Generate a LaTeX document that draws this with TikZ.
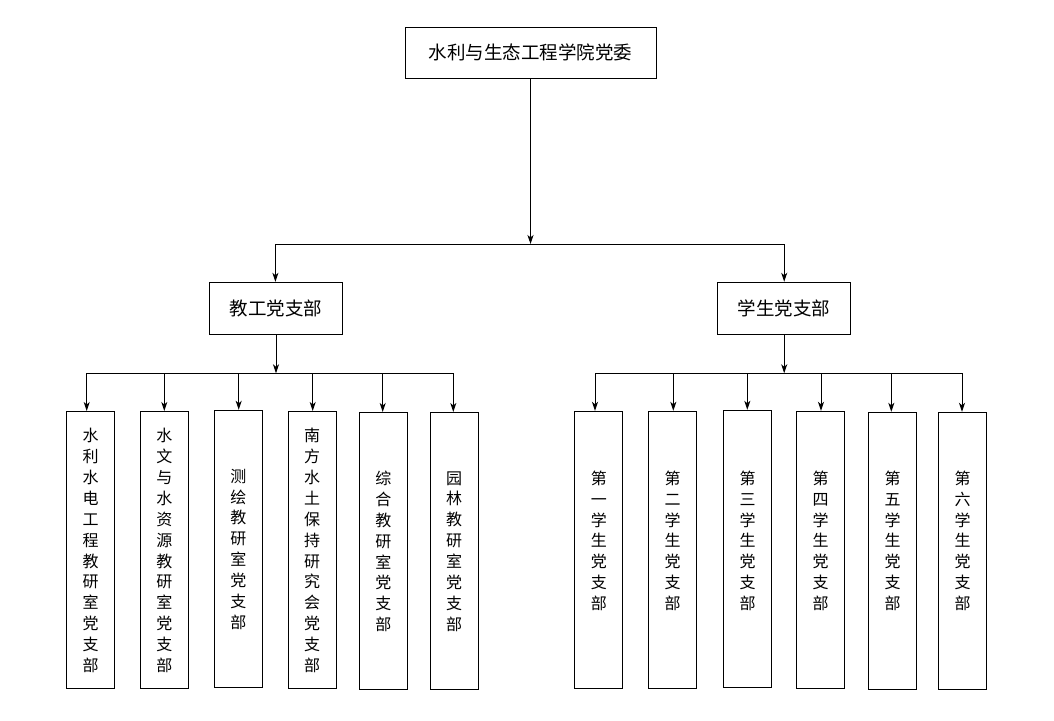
\documentclass[tikz,border=0pt]{standalone}
\usepackage{fontspec}
\setmainfont{Noto Sans CJK SC}
\usetikzlibrary{arrows.meta}
\tikzset{
  box/.style={draw=black, line width=1pt, inner sep=0pt, font=\fontsize{18.5}{22}\selectfont},
  leaf/.style={draw=black, line width=1pt, inner sep=0pt, minimum width=48pt, minimum height=277pt},
  leaftext/.style={inner sep=0pt, align=center, font=\fontsize{16}{20.9}\selectfont},
  conn/.style={line width=1pt, draw=black},
  arr/.style={conn, -{Stealth[length=9pt,width=6pt,inset=2.5pt]}}
}
\begin{document}
\begin{tikzpicture}[x=1pt,y=-1pt]
\useasboundingbox (0,0) rectangle (1054,720);
% top
\node[box, minimum width=251pt, minimum height=51pt] (top) at (530.5,52.5) {水利与生态工程学院党委};
% middle
\node[box, minimum width=133pt, minimum height=52pt] (jg) at (276,308.3) {教工党支部};
\node[box, minimum width=133pt, minimum height=52pt] (xs) at (784.2,308.3) {学生党支部};
% bars
\coordinate (tb) at (530.5,244);
\coordinate (tbl) at (275.4,244);
\coordinate (tbr) at (784.2,244);
\draw[arr] (top.south) -- (tb);
\draw[conn] (tbl) -- (tbr);
\draw[arr] (tbl) -- (tbl |- jg.north);
\draw[arr] (tbr) -- (xs.north);
% left leaves
\node[leaf] (l1) at (90.5,550) {};
\node[leaf] (l2) at (164.3,550) {};
\node[leaf] (l3) at (238.3,548.8) {};
\node[leaf] (l4) at (312,550) {};
\node[leaf] (l5) at (383.3,551) {};
\node[leaf] (l6) at (454.2,551) {};
\node[leaftext] at ([yshift=-0.5]l1.center) {水\\利\\水\\电\\工\\程\\教\\研\\室\\党\\支\\部};
\node[leaftext] at ([yshift=-0.5]l2.center) {水\\文\\与\\水\\资\\源\\教\\研\\室\\党\\支\\部};
\node[leaftext] at ([yshift=-0.5]l3.center) {测\\绘\\教\\研\\室\\党\\支\\部};
\node[leaftext] at ([yshift=-0.5]l4.center) {南\\方\\水\\土\\保\\持\\研\\究\\会\\党\\支\\部};
\node[leaftext] at ([yshift=-0.5]l5.center) {综\\合\\教\\研\\室\\党\\支\\部};
\node[leaftext] at ([yshift=-0.5]l6.center) {园\\林\\教\\研\\室\\党\\支\\部};
\coordinate (lb) at (276,373.3);
\coordinate (lb1) at (86.7,373.3);
\coordinate (lb2) at (164.3,373.3);
\coordinate (lb3) at (238.7,373.3);
\coordinate (lb4) at (312.7,373.3);
\coordinate (lb5) at (382.7,373.3);
\coordinate (lb6) at (453.3,373.3);
\draw[arr] (jg.south) -- (lb);
\draw[conn] (lb1) -- (lb6);
\foreach \i in {1,...,6} \draw[arr] (lb\i) -- (lb\i |- l\i.north);
% right leaves
\node[leaf] (r1) at (598.8,549.8) {};
\node[leaf] (r2) at (672.7,549.8) {};
\node[leaf] (r3) at (747.5,548.8) {};
\node[leaf] (r4) at (820.7,549.8) {};
\node[leaf] (r5) at (892.5,550.8) {};
\node[leaf] (r6) at (962.5,550.8) {};
\node[leaftext] at ([yshift=9]r1.center) {第\\一\\学\\生\\党\\支\\部};
\node[leaftext] at ([yshift=9]r2.center) {第\\二\\学\\生\\党\\支\\部};
\node[leaftext] at ([yshift=8]r3.center) {第\\三\\学\\生\\党\\支\\部};
\node[leaftext] at ([yshift=9]r4.center) {第\\四\\学\\生\\党\\支\\部};
\node[leaftext] at ([yshift=10]r5.center) {第\\五\\学\\生\\党\\支\\部};
\node[leaftext] at ([yshift=10]r6.center) {第\\六\\学\\生\\党\\支\\部};
\coordinate (rb) at (784.2,373.3);
\coordinate (rb1) at (595,373.3);
\coordinate (rb2) at (673.3,373.3);
\coordinate (rb3) at (747.3,373.3);
\coordinate (rb4) at (821,373.3);
\coordinate (rb5) at (891.3,373.3);
\coordinate (rb6) at (962,373.3);
\draw[arr] (xs.south) -- (rb);
\draw[conn] (rb1) -- (rb6);
\foreach \i in {1,...,6} \draw[arr] (rb\i) -- (rb\i |- r\i.north);
\end{tikzpicture}
\end{document}
